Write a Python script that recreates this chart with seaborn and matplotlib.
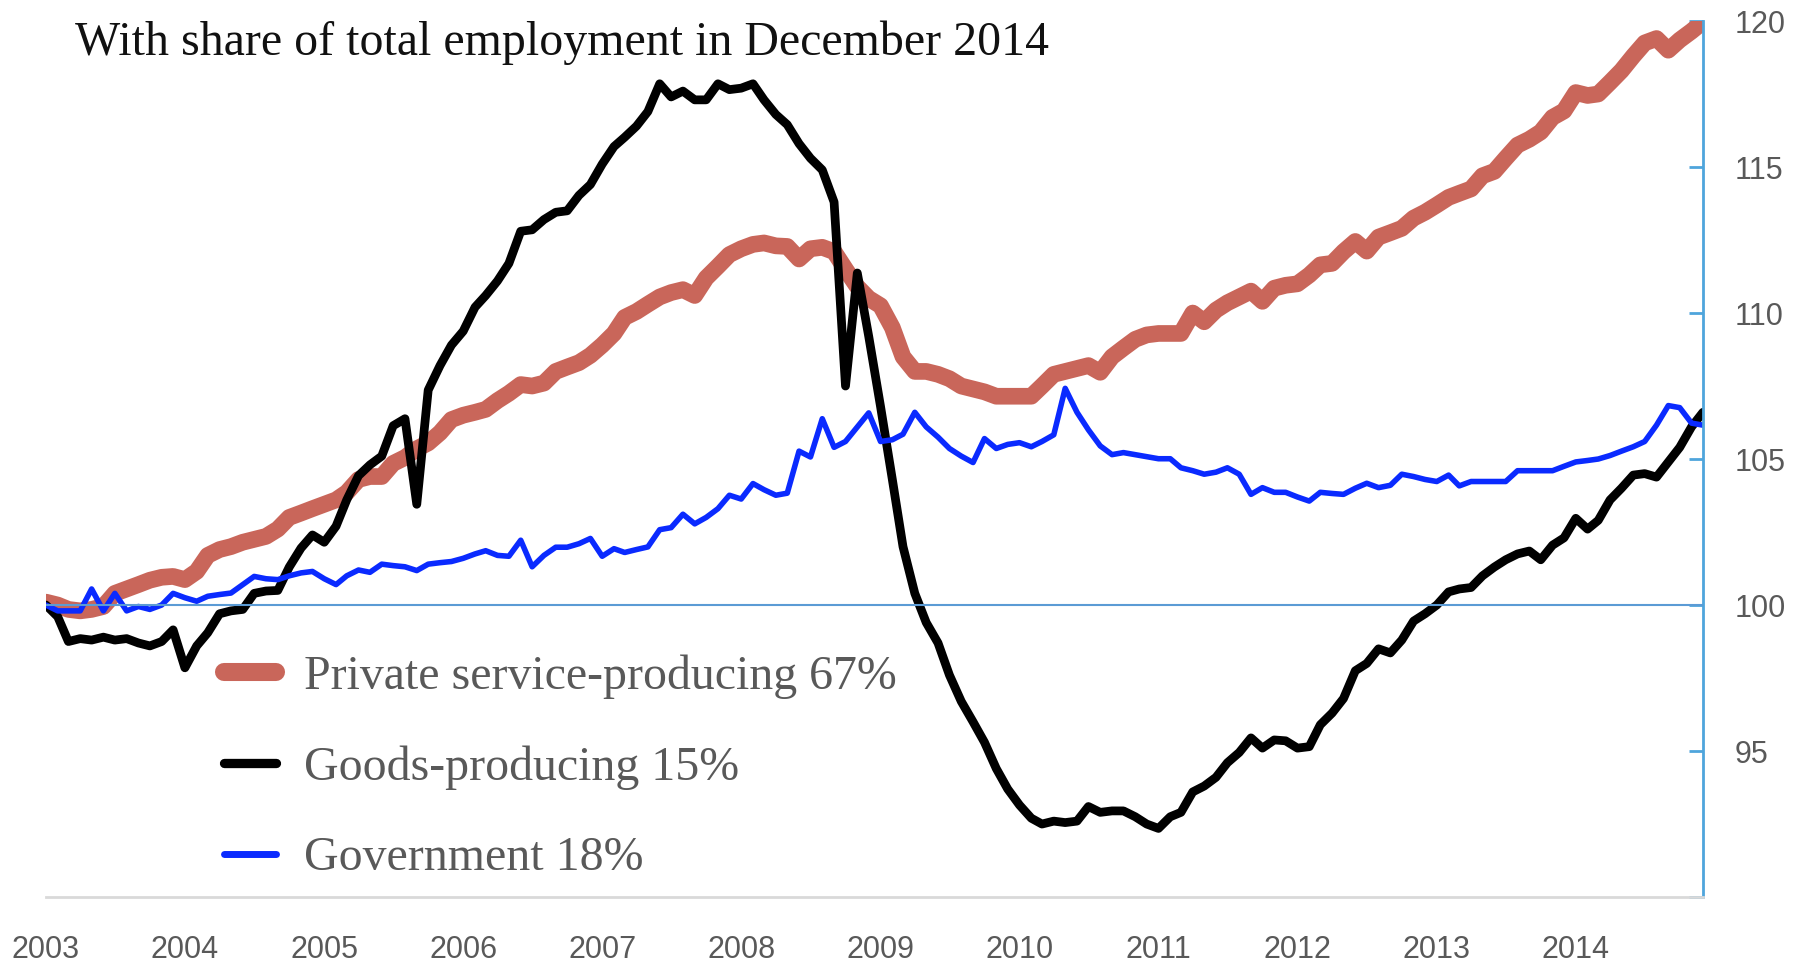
import numpy as np
import pandas as pd
import matplotlib.pyplot as plt
import seaborn as sns

# monthly index, Jan 2003 = 100
months = pd.date_range('2003-01-01', '2014-12-01', freq='MS')

private_services = [
    100.1, 100.0, 99.85, 99.8, 99.85, 99.95, 100.4, 100.55, 100.7, 100.85, 100.95, 100.98,
    100.87, 101.15, 101.7, 101.9, 102.0, 102.15, 102.25, 102.35, 102.6, 103.0, 103.15, 103.3,
    103.45, 103.6, 103.85, 104.3, 104.4, 104.4, 104.85, 105.05, 105.35, 105.55, 105.9, 106.35,
    106.5, 106.6, 106.7, 107.0, 107.25, 107.55, 107.5, 107.6, 108.0, 108.15, 108.3, 108.55,
    108.9, 109.3, 109.85, 110.05, 110.3, 110.55, 110.7, 110.8, 110.6, 111.2, 111.6, 112.0,
    112.2, 112.35, 112.4, 112.3, 112.28, 111.85, 112.2, 112.25, 112.1, 111.5, 110.9, 110.5,
    110.25, 109.5, 108.5, 108.0, 108.0, 107.9, 107.75, 107.5, 107.4, 107.3, 107.15, 107.15,
    107.15, 107.15, 107.5, 107.9, 108.0, 108.1, 108.2, 107.97, 108.5, 108.8, 109.1, 109.25,
    109.3, 109.3, 109.3, 110.0, 109.7, 110.1, 110.35, 110.55, 110.75, 110.4, 110.85, 110.95,
    111.0, 111.3, 111.65, 111.7, 112.1, 112.45, 112.12, 112.6, 112.75, 112.9, 113.25, 113.45,
    113.7, 113.96, 114.1, 114.25, 114.7, 114.85, 115.3, 115.75, 115.95, 116.2, 116.7, 116.92,
    117.55, 117.45, 117.5, 117.9, 118.3, 118.8, 119.25, 119.4, 119.0, 119.35, 119.65, 119.97,
]

goods_producing = [
    100.0, 99.6, 98.75, 98.85, 98.8, 98.9, 98.8, 98.85, 98.7, 98.6, 98.75, 99.15,
    97.85, 98.6, 99.05, 99.7, 99.8, 99.85, 100.4, 100.48, 100.5, 101.3, 101.95, 102.4,
    102.15, 102.7, 103.6, 104.43, 104.8, 105.1, 106.14, 106.38, 103.45, 107.36, 108.2, 108.9,
    109.38, 110.2, 110.6, 111.1, 111.7, 112.8, 112.85, 113.2, 113.45, 113.5, 114.03, 114.4,
    115.1, 115.7, 116.02, 116.4, 116.9, 117.85, 117.4, 117.6, 117.3, 117.3, 117.85, 117.65,
    117.7, 117.85, 117.3, 116.8, 116.45, 115.8, 115.3, 114.9, 113.8, 107.5, 111.37, 109.2,
    106.8, 104.3, 102.0, 100.4, 99.4, 98.7, 97.6, 96.7, 96.0, 95.3, 94.4, 93.7,
    93.15, 92.7, 92.5, 92.6, 92.55, 92.6, 93.1, 92.9, 92.95, 92.95, 92.75, 92.5,
    92.35, 92.75, 92.9, 93.6, 93.8, 94.1, 94.6, 94.95, 95.45, 95.1, 95.38, 95.35,
    95.1, 95.15, 95.9, 96.3, 96.8, 97.75, 98.0, 98.5, 98.36, 98.8, 99.45, 99.7,
    100.0, 100.45, 100.55, 100.6, 101.0, 101.3, 101.55, 101.75, 101.85, 101.55, 102.05, 102.3,
    102.97, 102.6, 102.9, 103.6, 104.0, 104.45, 104.5, 104.38, 104.9, 105.4, 106.1, 106.6,
]

government = [
    100.0, 99.8, 99.8, 99.8, 100.55, 99.8, 100.4, 99.8, 99.95, 99.85, 100.0, 100.4,
    100.25, 100.13, 100.3, 100.36, 100.41, 100.7, 100.98, 100.9, 100.87, 101.0, 101.1, 101.15,
    100.9, 100.7, 101.0, 101.2, 101.12, 101.4, 101.35, 101.31, 101.18, 101.4, 101.45, 101.49,
    101.6, 101.75, 101.86, 101.7, 101.67, 102.22, 101.31, 101.7, 101.98, 101.98, 102.1, 102.28,
    101.67, 101.93, 101.8, 101.9, 101.99, 102.58, 102.65, 103.11, 102.78, 103.0, 103.3, 103.76,
    103.63, 104.16, 103.95, 103.76, 103.83, 105.27, 105.07, 106.38, 105.4, 105.6, 106.1, 106.58,
    105.6, 105.66, 105.85, 106.6, 106.1, 105.75, 105.36, 105.1, 104.88, 105.7, 105.36, 105.5,
    105.56, 105.42, 105.6, 105.83, 107.42, 106.6, 106.0, 105.45, 105.15, 105.22, 105.15, 105.08,
    105.01, 105.01, 104.7, 104.6, 104.48, 104.55, 104.7, 104.48, 103.79, 104.02, 103.86, 103.86,
    103.7, 103.56, 103.86, 103.82, 103.79, 104.0, 104.17, 104.02, 104.1, 104.48, 104.4, 104.3,
    104.23, 104.45, 104.08, 104.23, 104.23, 104.23, 104.23, 104.6, 104.6, 104.6, 104.6, 104.75,
    104.9, 104.95, 105.0, 105.12, 105.27, 105.42, 105.6, 106.16, 106.83, 106.76, 106.23, 106.16,
]

series_names = ['Private service-producing 67%', 'Goods-producing 15%', 'Government 18%']
year_labels = [str(y) for y in range(2003, 2015)]
y_ticks = [90, 95, 100, 105, 110, 115, 120]

colors = ['#c9665a', '#000000', '#0a2aff']
widths = [12, 6.3, 4]
legend_widths = [13, 6.7, 5]

sns.set_style('white')
plt.rcParams['font.family'] = ['Liberation Sans Narrow', 'Liberation Sans', 'DejaVu Sans']

fig = plt.figure(figsize=(18.08, 9.68), dpi=100)
ax = fig.add_axes([0.0254, 0.0733, 0.9165, 0.905])

for name, vals, c, lw in zip(series_names, [private_services, goods_producing, government], colors, widths):
    sns.lineplot(x=months, y=vals, ax=ax, color=c, linewidth=lw, label=name,
                 solid_capstyle='round', solid_joinstyle='round')

ax.axhline(100, color='#5b9bd5', lw=1.5, zorder=5)

ax.set_xlim(months[0], months[-1])
ax.set_ylim(90, 120)
ax.set_xticks([pd.Timestamp(f'{y}-01-01') for y in range(2003, 2015)])
ax.set_xticklabels(year_labels)
ax.yaxis.tick_right()
ax.set_yticks(y_ticks)
ax.set_yticklabels(['' if t == 90 else str(t) for t in y_ticks])
ax.set_xlabel('')
ax.set_ylabel('')

ax.tick_params(axis='y', direction='in', length=10, width=2, color='#4ea5dc',
               pad=23, labelsize=22, labelcolor='#595959', right=True, left=False)
ax.tick_params(axis='x', length=0, pad=27, labelsize=22, labelcolor='#595959')

ax.spines['left'].set_visible(False)
ax.spines['top'].set_visible(False)
ax.spines['right'].set_color('#4ea5dc')
ax.spines['right'].set_linewidth(2)
ax.spines['bottom'].set_color('#d9d9d9')
ax.spines['bottom'].set_linewidth(2)

leg = ax.legend(loc='upper left', bbox_to_anchor=(0.1074, 0.277), frameon=False,
                prop={'family': 'Liberation Serif', 'size': 34.5},
                handlelength=1.08, handletextpad=0.6, labelspacing=0.97,
                borderpad=0, borderaxespad=0)
for txt in leg.get_texts():
    txt.set_color('#595959')
for line, w in zip(leg.get_lines(), legend_widths):
    line.set_linewidth(w)
    line.set_solid_capstyle('round')

fig.text(75 / 1808, 1 - 55 / 968, 'With share of total employment in December 2014',
         fontsize=34.5, family='Liberation Serif', va='baseline', ha='left', color='#111111')

fig.savefig('out.png', dpi=100)
